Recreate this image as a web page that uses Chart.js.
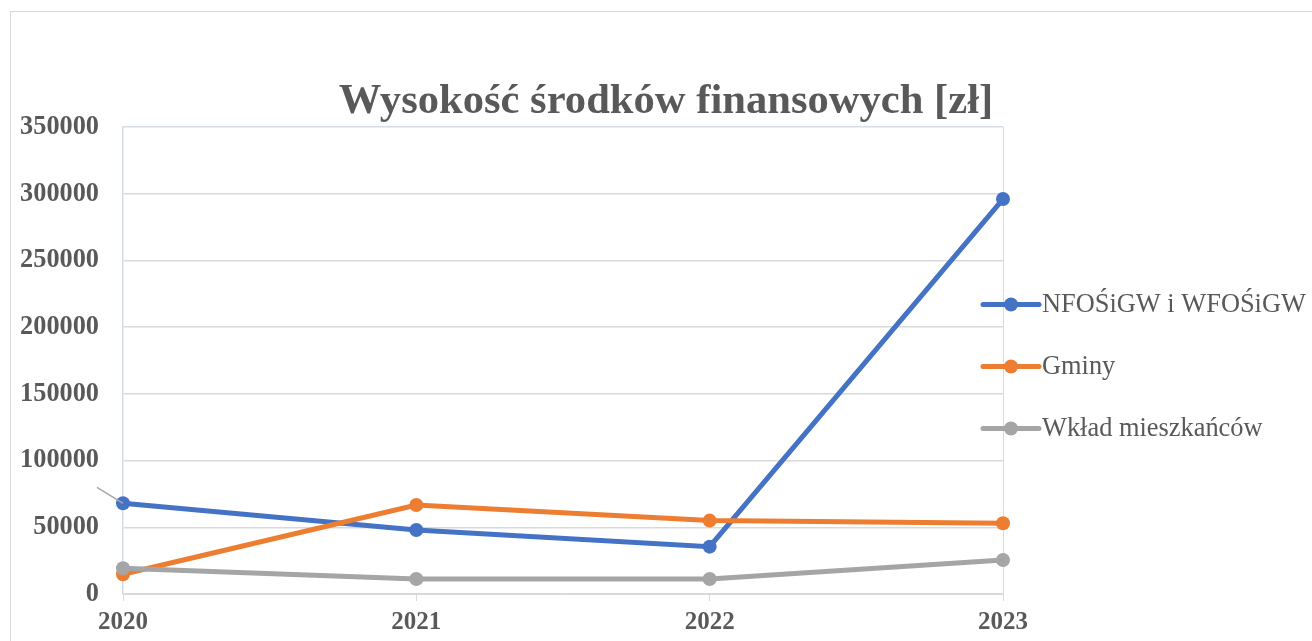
<!DOCTYPE html>
<html lang="pl">
<head>
<meta charset="utf-8">
<title>Wysokość środków finansowych [zł]</title>
<script src="https://cdn.jsdelivr.net/npm/chart.js@4.4.1/dist/chart.umd.min.js"></script>
<style>
  html, body { margin: 0; padding: 0; background: #fff; }
  #wrap { position: relative; width: 1312px; height: 641px; overflow: hidden; }
  #frame { position: absolute; left: 10px; top: 11px; width: 1400px; height: 700px; border: 1.5px solid #d9d9d9; }
  #chart { position: absolute; left: 0; top: 0; }
</style>
</head>
<body>
<div id="wrap">
  <div id="frame"></div>
  <canvas id="chart" width="1312" height="641"></canvas>
</div>
<script>
// dane wykresu
const years = ['2020', '2021', '2022', '2023'];
const seriesNames = ['NFOŚiGW i WFOŚiGW', 'Gminy', 'Wkład mieszkańców'];
const nfosValues = [68000, 48000, 35500, 296000];
const gminyValues = [14800, 66700, 55000, 53000];
const mieszkancyValues = [19300, 11200, 11200, 25500];
const yTicks = [0, 50000, 100000, 150000, 200000, 250000, 300000, 350000];

const chartTitle = 'Wysokość środków finansowych [zł]';

// kolory
const palette = {
    blue: '#4472C4',
    orange: '#ED7D31',
    gray: '#A5A5A5',
    text: '#595959',
    grid: '#D9D9D9',
    frame: '#D6DCE5',
    leader: '#A6A6A6'
};

const serif = "'Liberation Serif', 'Times New Roman', 'DejaVu Serif', serif";

/**
 * Tytuł, legenda po prawej, prawa krawędź obszaru wykresu i linia odniesienia
 */
const excelLook = {
    id: 'excelLook',
    beforeDatasetsDraw(chart) {
        const { ctx, chartArea } = chart;
        ctx.save();
        ctx.strokeStyle = palette.frame;
        ctx.lineWidth = 1;
        ctx.beginPath();
        ctx.moveTo(Math.round(chartArea.right) + 0.5, chartArea.top);
        ctx.lineTo(Math.round(chartArea.right) + 0.5, chartArea.bottom);
        ctx.stroke();
        ctx.restore();
    },
    afterDatasetsDraw(chart) {
        // linia odniesienia etykiety przy pierwszym punkcie
        const pt = chart.getDatasetMeta(0).data[0];
        if (!pt) return;
        const ctx = chart.ctx;
        ctx.save();
        ctx.strokeStyle = palette.leader;
        ctx.lineWidth = 1.5;
        ctx.beginPath();
        ctx.moveTo(pt.x - 26, pt.y - 16);
        ctx.lineTo(pt.x, pt.y);
        ctx.stroke();
        ctx.restore();
    },
    afterDraw(chart) {
        const { ctx, chartArea } = chart;
        ctx.save();

        // tytuł
        ctx.fillStyle = palette.text;
        ctx.font = 'bold 42.6px ' + serif;
        ctx.textAlign = 'center';
        ctx.textBaseline = 'alphabetic';
        ctx.fillText(chartTitle, 666, 113);

        // legenda
        const midY = (chartArea.top + chartArea.bottom) / 2;
        const gap = 62;
        const firstY = midY - 56;
        ctx.font = '26.4px ' + serif;
        ctx.textAlign = 'left';
        ctx.textBaseline = 'middle';
        chart.data.datasets.forEach((ds, i) => {
            const y = firstY + i * gap;
            const x0 = chartArea.right - 20;
            ctx.strokeStyle = ds.borderColor;
            ctx.lineWidth = 5;
            ctx.lineCap = 'round';
            ctx.beginPath();
            ctx.moveTo(x0, y);
            ctx.lineTo(x0 + 56, y);
            ctx.stroke();
            ctx.fillStyle = ds.borderColor;
            ctx.beginPath();
            ctx.arc(x0 + 28, y, 7, 0, Math.PI * 2);
            ctx.fill();
            ctx.fillStyle = palette.text;
            ctx.fillText(ds.label, x0 + 59, y + 1);
        });
        ctx.restore();
    }
};

function makeSeries(label, values, color, order) {
    return {
        label: label,
        data: values,
        borderColor: color,
        backgroundColor: color,
        borderWidth: 5,
        pointRadius: 7,
        pointHoverRadius: 7,
        pointBorderWidth: 0,
        tension: 0,
        clip: false,
        order: order
    };
}

document.addEventListener('DOMContentLoaded', function() {
    const ctx = document.getElementById('chart');

    new Chart(ctx, {
        type: 'line',
        data: {
            labels: years,
            datasets: [
                makeSeries(seriesNames[0], nfosValues, palette.blue, 2),
                makeSeries(seriesNames[1], gminyValues, palette.orange, 1),
                makeSeries(seriesNames[2], mieszkancyValues, palette.gray, 0)
            ]
        },
        options: {
            responsive: false,
            animation: false,
            layout: { padding: { top: 127, right: 309, left: 0, bottom: 0 } },
            plugins: {
                legend: { display: false },
                title: { display: false },
                tooltip: { enabled: false }
            },
            scales: {
                x: {
                    offset: false,
                    afterFit(scale) { scale.height = 47; },
                    grid: {
                        display: true,
                        drawOnChartArea: false,
                        drawTicks: true,
                        tickLength: 7,
                        color: palette.grid
                    },
                    border: { color: palette.grid, width: 1 },
                    ticks: {
                        color: palette.text,
                        padding: 7,
                        font: { family: serif, size: 25, weight: 'bold' },
                        maxRotation: 0
                    }
                },
                y: {
                    min: 0,
                    max: yTicks[yTicks.length - 1],
                    afterFit(scale) { scale.width = 123; },
                    afterBuildTicks(scale) {
                        scale.ticks = yTicks.map(v => ({ value: v }));
                    },
                    grid: {
                        drawTicks: false,
                        color: c => (c.tick && c.tick.value === yTicks[yTicks.length - 1]) ? palette.frame : palette.grid,
                        lineWidth: 1.5
                    },
                    border: { color: palette.frame, width: 1.5 },
                    ticks: {
                        color: palette.text,
                        padding: 24,
                        font: { family: serif, size: 26.3, weight: 'bold' },
                        callback: v => String(v)
                    }
                }
            }
        },
        plugins: [excelLook]
    });
});
</script>
</body>
</html>
